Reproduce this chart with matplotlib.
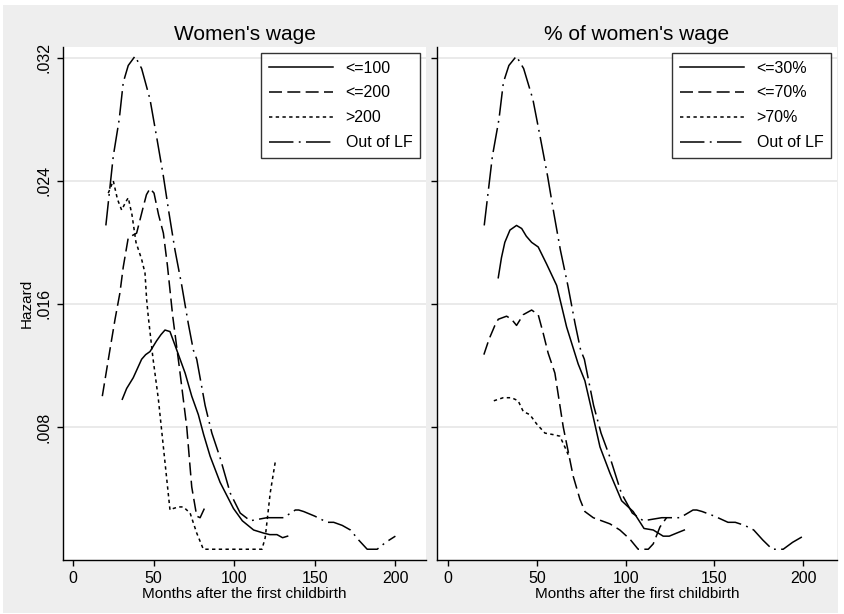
import matplotlib
matplotlib.use("Agg")
import matplotlib.pyplot as plt
from matplotlib.patches import Rectangle
import numpy as np

plt.rcParams["font.family"] = ["Liberation Sans", "DejaVu Sans"]

# ---- data (months, hazard) ----
# shared curve: out of labour force
olf_x = np.array([20.3, 24.9, 28.6, 31.1, 34.2, 38.4, 42.5, 47.7, 51.9, 56.0, 59.5,
                  63.2, 67.4, 71.5, 74.6, 76.7, 81.9, 86.1, 91.2, 97.5, 103.7, 109.9,
                  120.3, 130.6, 137.9, 140.0, 143.1, 150.0, 157.6, 161.7, 167.0, 172.1,
                  177.2, 182.5, 188.7, 194.0, 200.0])
olf_y = np.array([0.0211, 0.0256, 0.0280, 0.0304, 0.0315, 0.0321, 0.0313, 0.0293, 0.0268,
                  0.0243, 0.0219, 0.0195, 0.0172, 0.0147, 0.0130, 0.0124, 0.0094, 0.0076,
                  0.0060, 0.0037, 0.0024, 0.0019, 0.0021, 0.0021, 0.0026, 0.0026, 0.0025,
                  0.0022, 0.0018, 0.0018, 0.0016, 0.0013, 0.00065, 0.00005, 0.00005,
                  0.0005, 0.0009])

# left panel: women's wage
w100_x = np.array([30.5, 33.2, 37.3, 42.5, 45.0, 47.7, 51.8, 54.5, 57.0, 60.1, 64.3,
                   69.5, 73.6, 77.7, 81.0, 85.0, 91.2, 99.5, 105.0, 112.0, 118.2,
                   122.0, 126.5, 130.0, 133.1])
w100_y = np.array([0.0098, 0.0105, 0.0112, 0.0124, 0.0127, 0.0129, 0.0136, 0.0140,
                   0.0143, 0.0142, 0.0130, 0.0115, 0.0100, 0.0088, 0.0075, 0.0061,
                   0.0044, 0.0027, 0.0019, 0.0013, 0.0011, 0.0010, 0.0010, 0.0008,
                   0.0009])
w200_x = np.array([18.1, 22.8, 26.0, 29.0, 31.1, 34.2, 39.4, 43.5, 45.5, 47.7, 50.2,
                   53.0, 56.0, 58.5, 61.8, 66.0, 70.5, 73.6, 76.7, 78.8, 81.9])
w200_y = np.array([0.0100, 0.0130, 0.0150, 0.0167, 0.0184, 0.0203, 0.0206, 0.0223,
                   0.0231, 0.0235, 0.0232, 0.0218, 0.0206, 0.0185, 0.0152, 0.0118,
                   0.0080, 0.0041, 0.0022, 0.0021, 0.0028])
wgt200_x = np.array([21.8, 24.9, 27.5, 30.1, 32.5, 34.2, 36.5, 39.0, 42.5, 44.6, 45.6,
                     46.6, 49.5, 52.9, 55.5, 58.1, 60.1, 62.2, 65.3, 68.4, 72.6, 76.7,
                     80.8, 90.0, 100.0, 110.0, 117.2, 119.2, 122.3, 125.4])
wgt200_y = np.array([0.0232, 0.0240, 0.0228, 0.0221, 0.0226, 0.0229, 0.0218, 0.0200,
                     0.0189, 0.0180, 0.0163, 0.0152, 0.0125, 0.0098, 0.0072, 0.0046,
                     0.0026, 0.0027, 0.0028, 0.0028, 0.0024, 0.0011, 0.00005, 0.00005,
                     0.00005, 0.00005, 0.00005, 0.0008, 0.0037, 0.0057])

# right panel: % of women's wage
p30_x = np.array([28.2, 30.0, 31.9, 34.8, 38.5, 41.4, 44.0, 47.0, 50.7, 55.4, 61.1,
                  66.7, 73.2, 77.0, 81.0, 85.5, 91.1, 97.7, 104.2, 110.3, 115.5,
                  121.1, 124.5, 128.7, 133.0])
p30_y = np.array([0.0177, 0.0190, 0.0200, 0.0208, 0.0211, 0.0209, 0.0204, 0.0200,
                  0.0197, 0.0186, 0.0172, 0.0145, 0.0121, 0.0110, 0.0090, 0.0067,
                  0.0050, 0.0032, 0.0025, 0.0014, 0.0013, 0.0009, 0.0009, 0.0011,
                  0.0013])
p70_x = np.array([20.1, 23.0, 26.3, 28.2, 32.9, 35.7, 38.5, 42.3, 47.0, 50.7, 53.5,
                  56.3, 60.1, 64.8, 70.4, 74.2, 77.0, 81.7, 91.1, 96.7, 102.4, 107.0,
                  112.7, 115.5, 119.3, 123.0])
p70_y = np.array([0.0127, 0.0137, 0.0146, 0.0150, 0.0152, 0.0150, 0.0146, 0.0153,
                  0.0156, 0.0153, 0.0141, 0.0128, 0.0115, 0.0080, 0.0048, 0.0033,
                  0.0025, 0.0021, 0.0017, 0.0013, 0.0007, 0.00005, 0.00005, 0.0004,
                  0.0015, 0.0021])
pgt70_x = np.array([25.7, 31.0, 35.7, 39.4, 42.3, 46.0, 49.8, 54.5, 59.2, 62.9, 65.7,
                    67.6])
pgt70_y = np.array([0.0097, 0.0099, 0.0099, 0.0097, 0.0090, 0.0088, 0.0082, 0.0076,
                    0.0075, 0.0074, 0.0067, 0.0062])

y_ticks = [0.008, 0.016, 0.024, 0.032]
y_ticklabels = [".008", ".016", ".024", ".032"]
x_ticks = [0, 50, 100, 150, 200]

panels = [
    ("Women's wage", [(w100_x, w100_y, "<=100"), (w200_x, w200_y, "<=200"),
                      (wgt200_x, wgt200_y, ">200"), (olf_x, olf_y, "Out of LF")]),
    ("% of women's wage", [(p30_x, p30_y, "<=30%"), (p70_x, p70_y, "<=70%"),
                           (pgt70_x, pgt70_y, ">70%"), (olf_x, olf_y, "Out of LF")]),
]
styles = ["-", (0, (8.5, 3.5)), (0, (2.2, 2.2)), (0, (16, 3.5, 1.2, 3.5))]

W, H = 844, 614
fig = plt.figure(figsize=(W / 100, H / 100), dpi=100, facecolor="white")
# Stata-like grey graph region
fig.patches.append(Rectangle((3 / W, 1 / H), 835 / W, 608 / H, transform=fig.transFigure,
                             facecolor="#eeeeee", edgecolor="none", zorder=-10))

boxes = [(63, 426), (437, 837)]
top, bottom = 47, 560
for i, ((title, series), (x0, x1)) in enumerate(zip(panels, boxes)):
    ax = fig.add_axes([x0 / W, (H - bottom) / H, (x1 - x0) / W, (bottom - top) / H])
    ax.set_facecolor("white")
    for (xs, ys, lab), ls in zip(series, styles):
        ax.plot(xs, ys, color="black", lw=1.1, linestyle=ls, label=lab)
    ax.set_xlim(-6.3, 219)
    ax.set_ylim(-0.00065, 0.0327)
    ax.set_xticks(x_ticks)
    ax.set_yticks(y_ticks)
    if i == 0:
        ax.set_yticklabels(y_ticklabels, rotation=90, va="center")
        ax.set_ylabel("Hazard", fontsize=11, labelpad=2)
    else:
        ax.set_yticklabels([])
    ax.grid(axis="y", color="#e6e6e6", lw=1.2)
    ax.set_axisbelow(True)
    for s in ("top", "right"):
        ax.spines[s].set_visible(False)
    for s in ("left", "bottom"):
        ax.spines[s].set_linewidth(1.0)
    ax.tick_params(direction="out", length=4.5, width=1.0, labelsize=11.5, pad=3.5)
    ax.set_xlabel("Months after the first childbirth", fontsize=11, labelpad=1)
    ax.set_title(title, fontsize=15, pad=5)
    leg = ax.legend(loc="upper right", fontsize=11.5, frameon=True, fancybox=False,
                    edgecolor="black", handlelength=4.0, handletextpad=0.8,
                    labelspacing=0.62, borderpad=0.5, borderaxespad=0.35)
    leg.get_frame().set_linewidth(1.0)

fig.savefig("out.png", dpi=100, facecolor=fig.get_facecolor())
